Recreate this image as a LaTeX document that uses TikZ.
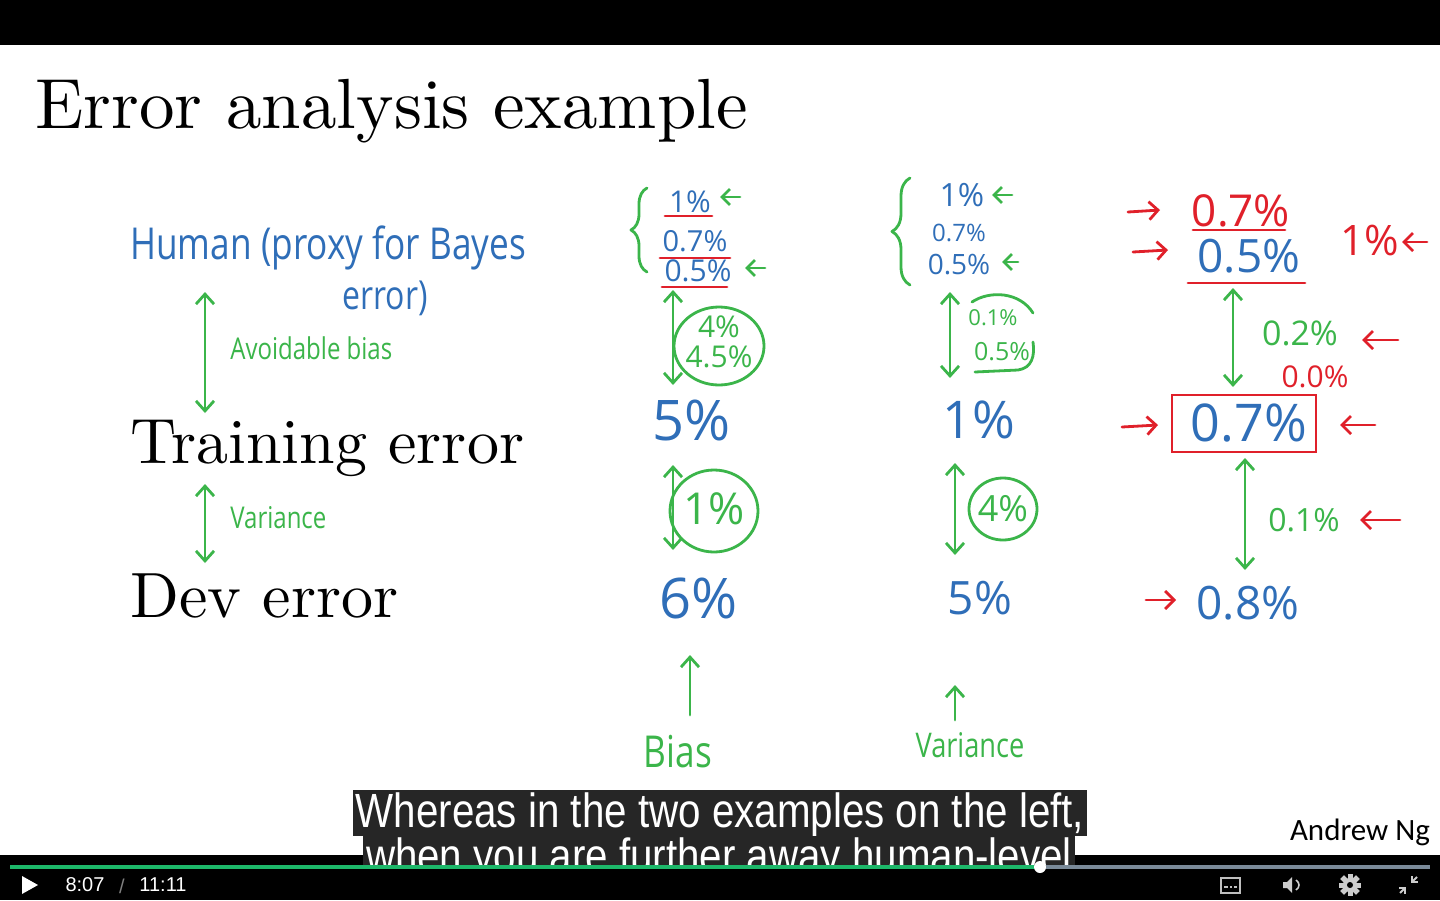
\documentclass[tikz,border=0pt]{standalone}
\usepackage{fontspec}
\newfontfamily\handn[FakeStretch=0.8]{Open Sans}
\newfontfamily\handw{Open Sans}
\newfontfamily\subf[FakeStretch=0.84]{Liberation Sans}
\newfontfamily\arialf{Liberation Sans}
\newfontfamily\calib{Carlito}
\newfontfamily\lmten[Ligatures=TeX]{lmroman10-regular.otf}
\usetikzlibrary{arrows.meta,decorations.pathreplacing,shapes.geometric}
\definecolor{hblue}{HTML}{2F6EB8}
\definecolor{hgreen}{HTML}{3BB54A}
\definecolor{hred}{HTML}{E0202A}
\definecolor{subbg}{HTML}{262626}
\definecolor{bargrey}{HTML}{7A8A99}
\definecolor{bargreen}{HTML}{1DB86A}
\newcommand{\mk}[6]{\coordinate (#6-a) at (#2,#3); \coordinate (#6-b) at (#4,#5); \draw[#1] (#6-a) -- (#6-b);}
\begin{document}
\begin{tikzpicture}[x=0.5pt,y=-0.5pt,
  >={Straight Barb[length=5pt,width=9pt]},
  hw/.style={font=\handn\fontsize{#1}{#1}\selectfont, inner sep=0pt, anchor=center},
  hn/.style={font=\handw\fontsize{#1}{#1}\selectfont, inner sep=0pt, anchor=center},
  serif/.style={font=\lmten\fontsize{#1}{#1}\selectfont, inner sep=0pt, anchor=base west},
  tb/.style={text=hblue}, tg/.style={text=hgreen}, tr/.style={text=hred},
  gl/.style={draw=hgreen, line width=1.4pt, line cap=round, line join=round},
  rl/.style={draw=hred, line width=1.4pt, line cap=round, line join=round},
  dbl/.style={gl,<->},
  upa/.style={gl,->},
  gmk/.style={gl,->,>={Straight Barb[length=4pt,width=8pt]}},
  rmk/.style={rl,->,>={Straight Barb[length=4.5pt,width=9pt]}},
  ulr/.style={rl},
  sub/.style={font=\subf\fontsize{24}{24}\selectfont, text=white, inner sep=0pt},
  ctl/.style={font=\arialf\fontsize{10}{10}\selectfont, text=white, inner sep=0pt}
]
\useasboundingbox (0,0) rectangle (1440,900);
\fill[white] (0,0) rectangle (1440,900);
\fill[black] (0,0) rectangle (1440,45);
\fill[black] (0,855) rectangle (1440,900);

% printed text
\node[serif=35.5] (title) at (35,128) {Error analysis example};
\node[serif=32] (train) at (130,463) {Training error};
\node[serif=32] (dev) at (130,617) {Dev error};

% left column annotations
\node[hw=22,tb,anchor=west] (human) at (130,248) {Human (proxy for Bayes};
\node[hw=20,tb] (err) at (385,298) {error)};
\mk{dbl}{205}{292}{205}{413}{av}
\node[hw=15,tg,anchor=west] (avb) at (230,348) {Avoidable bias};
\mk{dbl}{205}{484}{205}{563}{vr}
\node[hw=15,tg,anchor=west] (var) at (230,518) {Variance};

% column 2
\coordinate (c2ba) at (647,272); \coordinate (c2bb) at (647,188);
\draw[gl,decorate,decoration={brace,amplitude=8pt}] (c2ba) -- (c2bb);
\node[hn=15,tb] (c2h1) at (690,202) {1\%};
\node[hn=14.5,tb] (c2h2) at (695,241) {0.7\%};
\node[hn=15,tb] (c2h3) at (698,271) {0.5\%};
\mk{ulr}{665}{216}{712}{216}{c2u1}
\mk{ulr}{660}{258}{730}{258}{c2u2}
\mk{ulr}{662}{287}{727}{287}{c2u3}
\mk{gmk}{740}{197}{720}{197}{c2m1}
\mk{gmk}{765}{268}{745}{268}{c2m2}
\mk{dbl}{673}{290}{673}{385}{c2d1}
\node[gl,ellipse,minimum width=45pt,minimum height=39pt,inner sep=0pt] (c2e) at (719,346) {};
\node[tg,align=center,inner sep=0pt,font=\handw\fontsize{15}{15}\selectfont] (c2e1) at (719,342) {4\%\\4.5\%};
\node[hn=28,tb] (c2tr) at (692,420) {5\%};
\mk{dbl}{673}{465}{673}{550}{c2d2}
\node[gl,ellipse,minimum width=44pt,minimum height=41pt,inner sep=0pt] (c2c) at (714,511) {};
\node[hn=22,tg] (c2c1) at (714,509) {1\%};
\node[hn=28,tb] (c2dv) at (699,598) {6\%};
\mk{upa}{690}{715}{690}{655}{c2up}
\node[hw=22,tg] (bias) at (678,752) {Bias};

% column 3
\coordinate (c3ba) at (910,285); \coordinate (c3bb) at (910,178);
\draw[gl,decorate,decoration={brace,amplitude=9pt}] (c3ba) -- (c3bb);
\node[hn=16,tb] (c3h1) at (962,195) {1\%};
\node[hn=12,tb] (c3h2) at (959,233) {0.7\%};
\node[hn=14,tb] (c3h3) at (959,265) {0.5\%};
\mk{gmk}{1012}{195}{992}{195}{c3m1}
\mk{gmk}{1018}{262}{1002}{262}{c3m2}
\mk{dbl}{950}{292}{950}{378}{c3d1}
\node[hn=11,tg] (c3a1) at (993,318) {0.1\%};
\node[hn=12.5,tg] (c3a2) at (1002,352) {0.5\%};
\draw[gl] (972,302) .. controls (990,290) and (1020,292) .. (1033,313);
\draw[gl] (1033,342) .. controls (1035,356) and (1032,368) .. (1018,370) -- (975,372);
\node[hn=26,tb] (c3tr) at (979,420) {1\%};
\mk{dbl}{955}{463}{955}{555}{c3d2}
\node[gl,ellipse,minimum width=34pt,minimum height=31pt,inner sep=0pt] (c3c) at (1003,509) {};
\node[hn=18,tg] (c3c1) at (1003,509) {4\%};
\node[hn=23,tb] (c3dv) at (980,598) {5\%};
\mk{upa}{955}{720}{955}{685}{c3up}
\node[hw=17,tg] (variance) at (970,745) {Variance};

% column 4
\mk{rmk}{1128}{212}{1160}{210}{c4m1}
\node[hn=22,tr] (c4h1) at (1241,211) {0.7\%};
\mk{ulr}{1193}{230}{1285}{230}{c4u1}
\mk{rmk}{1133}{252}{1168}{250}{c4m2}
\node[hn=23,tb] (c4h2) at (1249,256) {0.5\%};
\mk{ulr}{1188}{283}{1305}{283}{c4u2}
\node[hn=21,tr] (c4one) at (1370,240) {1\%};
\mk{rmk}{1427}{242}{1402}{242}{c4m3}
\mk{dbl}{1233}{288}{1233}{387}{c4d1}
\node[hn=17,tg] (c4g1) at (1300,333) {0.2\%};
\mk{rmk}{1398}{340}{1362}{340}{c4m4}
\node[hn=15,tr] (c4r0) at (1315,377) {0.0\%};
\node[draw=hred,line width=1.4pt,minimum width=72pt,minimum height=28.5pt,inner sep=0pt] (c4box) at (1244,423.5) {};
\node[hn=26,tb] (c4tr) at (1249,423) {0.7\%};
\mk{rmk}{1122}{427}{1158}{425}{c4m5}
\mk{rmk}{1375}{425}{1340}{425}{c4m6}
\mk{dbl}{1245}{458}{1245}{570}{c4d2}
\node[hn=16,tg] (c4g2) at (1304,520) {0.1\%};
\mk{rmk}{1400}{520}{1360}{520}{c4m7}
\mk{rmk}{1146}{600}{1176}{600}{c4m8}
\node[hn=23,tb] (c4dv) at (1248,603) {0.8\%};

% author
\node[font=\calib\fontsize{15.5}{15.5}\selectfont, inner sep=0pt] (author) at (1360,832) {Andrew Ng};

% subtitles
\fill[subbg] (353,790) rectangle (1087,836);
\node[sub] (sub1) at (720,815) {Whereas in the two examples on the left,};
\begin{scope}
\clip (0,836) rectangle (1440,866);
\fill[subbg] (363,836) rectangle (1075,880);
\node[sub] (sub2) at (719,860) {when you are further away human-level};
\end{scope}

% player controls
\draw[bargreen,line width=2pt] (10,867) -- (1040,867);
\draw[bargrey,line width=2pt] (1040,867) -- (1430,867);
\fill[white] (1040,867) circle (3pt);
\fill[white] (22,876) -- (38,885) -- (22,894) -- cycle;
\node[ctl] (t1) at (85,885) {8:07};
\node[ctl,text=gray] (tsl) at (122,886) {/};
\node[ctl] (t2) at (163,885) {11:11};
\draw[white!75!black,line width=0.8pt] (1221,878) rectangle (1240,893);
\draw[white!75!black,line width=0.8pt] (1224,887) -- (1228,887) (1230,887) -- (1232,887) (1234,887) -- (1237,887);
\fill[white!80!black] (1283,882) -- (1287,882) -- (1292,877) -- (1292,893) -- (1287,888) -- (1283,888) -- cycle;
\draw[white!80!black,line width=0.8pt] (1296,880) .. controls (1300,883) and (1300,887) .. (1296,890);
\foreach \a in {0,45,...,315} {\fill[white!80!black,rotate around={\a:(1350,885)}] (1347.5,874) rectangle (1352.5,896);}
\fill[white!80!black] (1350,885) circle (3.5pt);
\fill[black] (1350,885) circle (1.5pt);
\draw[white!80!black,line width=1pt,->,>={Straight Barb[length=2pt,width=4pt]}] (1400,893) -- (1406,887);
\draw[white!80!black,line width=1pt,->,>={Straight Barb[length=2pt,width=4pt]}] (1417,877) -- (1411,883);
\end{tikzpicture}
\end{document}
